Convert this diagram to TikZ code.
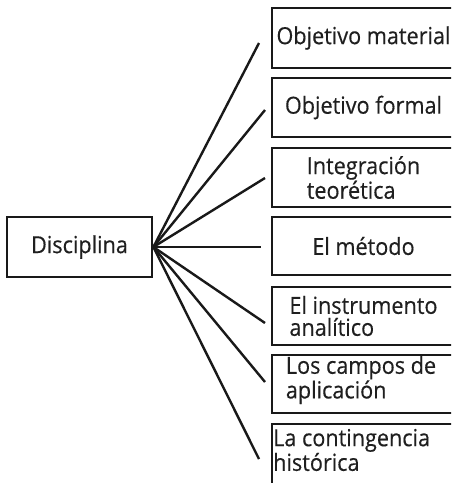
\documentclass[tikz,border=0pt]{standalone}
\usepackage{fontspec}
\setmainfont[FakeStretch=0.92,FakeBold=0.4]{Open Sans}
\begin{document}
\begin{tikzpicture}[x=1pt,y=-1pt,
  box/.style={draw=black!90, line width=2.8pt, inner sep=0pt, align=left,
    font=\fontsize{23.5}{22}\selectfont, text=black!88},
  lbl/.style={inner sep=0pt, align=left, font=\fontsize{23.5}{22}\selectfont, text=black!88},
  link/.style={draw=black!90, line width=2.4pt}]
\useasboundingbox (0,0) rectangle (451,483);
\clip (0,0) rectangle (451,483);
% root
\node[box, minimum width=145pt, minimum height=60pt] (root) at (79.5,247) {Disciplina};
% right boxes
\node[box, minimum width=183pt, minimum height=60pt] (b1) at (363.5,38) {Objetivo material};
\node[box, minimum width=183pt, minimum height=59pt] (b2) at (363.5,107.5) {Objetivo formal};
\node[box, minimum width=183pt, minimum height=59pt] (b3) at (363.5,177.5) {Integración\\teorética};
\node[box, minimum width=183pt, minimum height=58pt] (b4) at (363.5,246) {El método};
\node[box, minimum width=183pt, minimum height=58pt] (b5) at (363.5,316) {El instrumento\\analítico};
\node[box, minimum width=183pt, minimum height=58pt] (b6) at (363.5,384) {};
\node[lbl] (t6) at (361,380) {Los campos de\\aplicación};
\node[box, minimum width=183pt, minimum height=63pt] (b7) at (363.5,455.5) {};
\node[lbl, anchor=west] (t7) at (273,450) {La contingencia\\histórica};
% free ends of connectors
\coordinate (e1) at (259,43);
\coordinate (e2) at (265,110);
\coordinate (e3) at (265,178);
\coordinate (e4) at (261,247);
\coordinate (e5) at (265,323);
\coordinate (e6) at (265,382);
\coordinate (e7) at (259,459);
\foreach \i in {1,...,7} \draw[link] (root.east) -- (e\i);
\end{tikzpicture}
\end{document}
